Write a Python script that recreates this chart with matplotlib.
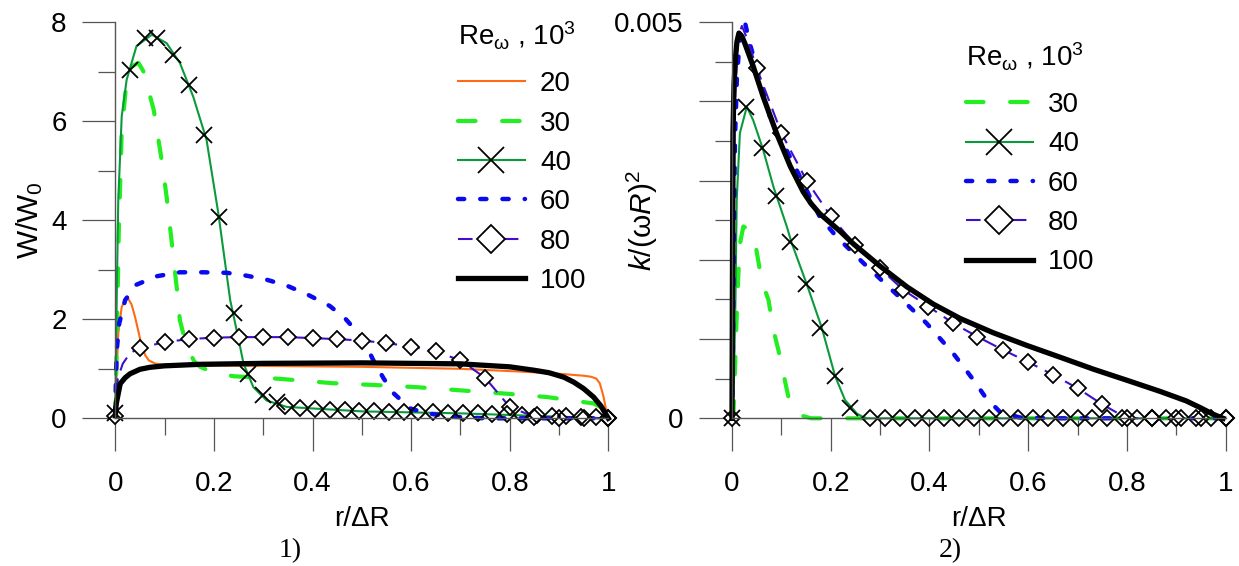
import numpy as np
import matplotlib
matplotlib.use('Agg')
import matplotlib.pyplot as plt
from matplotlib.legend_handler import HandlerTuple

plt.rcParams['font.family'] = ['Liberation Sans', 'DejaVu Sans']
plt.rcParams['font.size'] = 20
plt.rcParams['mathtext.fontset'] = 'custom'
plt.rcParams['mathtext.rm'] = 'Liberation Sans'
plt.rcParams['mathtext.it'] = 'Liberation Sans:italic'

# ---------- panel 1) : W/W0 vs r/dR ----------
x20 = [0, 0.006, 0.013, 0.02, 0.026, 0.033, 0.04, 0.047, 0.054, 0.061, 0.068, 0.08, 0.09,
       0.17, 0.5, 0.7, 0.83, 0.9, 0.95, 0.965, 0.976, 0.983, 0.99, 0.997, 1.0]
y20 = [0.23, 1.71, 2.25, 2.4, 2.42, 2.3, 2.05, 1.75, 1.44, 1.27, 1.17, 1.11, 1.09,
       1.07, 1.04, 1.0, 0.94, 0.9, 0.86, 0.84, 0.8, 0.7, 0.45, 0.1, 0.0]

x30 = [0, 0.003, 0.007, 0.013, 0.023, 0.033, 0.047, 0.057, 0.078, 0.094, 0.104, 0.114, 0.125,
       0.131, 0.145, 0.16, 0.172, 0.2, 0.24, 0.33, 0.44, 0.51, 0.61, 0.79, 0.875, 0.97, 0.99, 1.0]
y30 = [0.0, 1.5, 3.74, 5.77, 6.84, 7.11, 7.18, 7.01, 6.23, 5.22, 4.48, 3.6, 2.6,
       1.98, 1.44, 1.15, 1.04, 0.92, 0.85, 0.8, 0.71, 0.68, 0.63, 0.5, 0.43, 0.3, 0.2, 0.05]

x40 = [0, 0.003, 0.006, 0.013, 0.023, 0.043, 0.074, 0.104, 0.131, 0.158, 0.185, 0.209, 0.233,
       0.25, 0.26, 0.28, 0.307, 0.348, 0.5, 0.7, 1.0]
y40 = [0, 2.5, 4.4, 6.1, 6.84, 7.52, 7.75, 7.58, 7.18, 6.5, 5.63, 4.14, 2.39,
       1.6, 1.11, 0.63, 0.36, 0.23, 0.14, 0.1, 0.0]
# cross markers on the 40 curve
mx40 = [0, 0.03, 0.06, 0.084, 0.118, 0.15, 0.18, 0.21, 0.24, 0.27, 0.30, 0.327]
my40 = [0.1, 7.04, 7.69, 7.69, 7.35, 6.74, 5.73, 4.06, 2.12, 0.9, 0.47, 0.33]
# diamond markers further along the 40 curve
dx40 = [0.345, 0.375, 0.405, 0.435, 0.465, 0.495, 0.525, 0.555, 0.585, 0.615, 0.645, 0.675,
        0.705, 0.735, 0.765, 0.795, 0.825, 0.855, 0.885, 0.915, 0.945, 0.975, 1.0]
dy40 = [0.24, 0.21, 0.19, 0.17, 0.16, 0.15, 0.14, 0.13, 0.13, 0.12, 0.12, 0.11,
        0.1, 0.1, 0.09, 0.08, 0.07, 0.06, 0.05, 0.04, 0.03, 0.02, 0.0]

x60 = [0, 0.001, 0.003, 0.008, 0.02, 0.043, 0.084, 0.131, 0.179, 0.226, 0.267, 0.307, 0.348,
       0.39, 0.435, 0.466, 0.49, 0.51, 0.523, 0.544, 0.564, 0.598, 0.632, 0.686, 0.75, 1.0]
y60 = [0.1, 0.67, 1.38, 1.92, 2.39, 2.7, 2.87, 2.95, 2.95, 2.94, 2.88, 2.8, 2.68,
       2.5, 2.27, 2.02, 1.75, 1.45, 1.18, 0.81, 0.51, 0.2, 0.1, 0.03, 0.0, 0.0]

x80 = [0, 0.005, 0.015, 0.03, 0.05, 0.1, 0.15, 0.2, 0.25, 0.3, 0.35, 0.4, 0.45, 0.5, 0.55,
       0.6, 0.65, 0.7, 0.75, 0.8, 0.85, 0.9, 0.95, 1.0]
y80 = [0.05, 0.8, 1.1, 1.32, 1.42, 1.54, 1.6, 1.63, 1.64, 1.64, 1.64, 1.62, 1.6, 1.57, 1.52,
       1.45, 1.35, 1.17, 0.82, 0.23, 0.03, 0.0, 0.0, 0.0]
mark80 = [0] + list(range(4, len(x80)))

x100 = [0, 0.002, 0.005, 0.01, 0.02, 0.03, 0.05, 0.07, 0.1, 0.17, 0.3, 0.5, 0.7, 0.8, 0.85,
        0.88, 0.91, 0.93, 0.95, 0.97, 0.985, 1.0]
y100 = [0.05, 0.3, 0.45, 0.7, 0.82, 0.9, 0.99, 1.03, 1.06, 1.09, 1.11, 1.12, 1.1, 1.04, 0.97,
        0.92, 0.83, 0.73, 0.6, 0.43, 0.25, 0.0]

# ---------- panel 2) : k/(wR)^2 vs r/dR  (values in 1e-3) ----------
x30r = [0, 0.003, 0.006, 0.009, 0.013, 0.016, 0.023, 0.035, 0.047, 0.06, 0.074, 0.084, 0.094,
        0.107, 0.117, 0.128, 0.138, 0.16, 1.0]
y30r = [0, 0.06, 0.6, 1.2, 1.83, 2.2, 2.42, 2.38, 2.21, 1.74, 1.49, 1.11, 0.86,
        0.48, 0.19, 0.08, 0.04, 0, 0]

x40r = [0, 0.004, 0.007, 0.0095, 0.016, 0.03, 0.043, 0.063, 0.084, 0.111, 0.121, 0.151, 0.182,
        0.209, 0.229, 0.253, 0.27, 1.0]
y40r = [0, 0.5, 1.5, 2.75, 3.6, 3.93, 3.76, 3.39, 2.92, 2.42, 2.21, 1.7, 1.14,
        0.53, 0.23, 0.06, 0, 0]
mx40r = [0, 0.028, 0.06, 0.09, 0.118, 0.15, 0.178, 0.209, 0.239]
my40r = [0, 3.93, 3.41, 2.8, 2.23, 1.7, 1.14, 0.53, 0.13]
dx40r = [0.28, 0.31, 0.34, 0.37, 0.4, 0.43, 0.46, 0.49, 0.52, 0.55, 0.58, 0.61, 0.64, 0.67,
         0.7, 0.73, 0.76, 0.79, 0.82, 0.85, 0.88, 0.91, 0.94, 0.97, 1.0]
dy40r = [0.0] * len(dx40r)

x60r = [0, 0.002, 0.004, 0.006, 0.01, 0.016, 0.026, 0.036, 0.057, 0.077, 0.1, 0.124, 0.151,
        0.178, 0.212, 0.266, 0.334, 0.394, 0.448, 0.475, 0.492, 0.513, 0.543, 0.583, 0.65, 1.0]
y60r = [0, 1.0, 2.5, 3.5, 4.3, 4.81, 5.0, 4.73, 4.27, 3.8, 3.51, 3.22, 2.88,
        2.54, 2.29, 1.96, 1.56, 1.2, 0.82, 0.6, 0.46, 0.27, 0.08, 0.01, 0, 0]

x80r = [0, 0.003, 0.006, 0.012, 0.02, 0.03, 0.05, 0.1, 0.151, 0.2, 0.249, 0.3, 0.347, 0.398,
        0.448, 0.497, 0.55, 0.6, 0.65, 0.7, 0.749, 0.8, 0.85, 0.9, 0.95, 1.0]
y80r = [0, 2.0, 4.0, 4.8, 4.95, 4.8, 4.42, 3.6, 3.0, 2.55, 2.19, 1.89, 1.62, 1.41,
        1.2, 1.03, 0.86, 0.71, 0.55, 0.38, 0.18, 0, 0, 0, 0, 0]
mark80r = [0] + list(range(6, len(x80r)))

x100r = [0, 0.001, 0.002, 0.004, 0.007, 0.01, 0.014, 0.02, 0.026, 0.043, 0.063, 0.09, 0.118,
         0.144, 0.16, 0.178, 0.219, 0.246, 0.3, 0.354, 0.408, 0.462, 0.529, 0.597, 0.665, 0.732,
         0.8, 0.867, 0.92, 0.95, 0.975, 0.995]
y100r = [0, 2.0, 3.6, 4.2, 4.55, 4.75, 4.86, 4.82, 4.73, 4.44, 4.06, 3.6, 3.18,
         2.86, 2.71, 2.58, 2.36, 2.2, 1.92, 1.66, 1.44, 1.26, 1.08, 0.92, 0.77, 0.62,
         0.48, 0.34, 0.22, 0.13, 0.05, 0.0]

k = 1e-3

# styles
s20 = dict(color='#ff6a13', lw=1.5)
s30 = dict(color='#22ee22', lw=3.0, dashes=(4.2, 6.4), dash_capstyle='round')
s40 = dict(color='#0a9a3c', lw=1.5)
s60 = dict(color='#0a0af0', lw=3.2, dashes=(1.4, 3.6), dash_capstyle='round')
s80 = dict(color='#4010c8', lw=1.5, dashes=(7, 4))
s100 = dict(color='black', lw=3.8)
sx = dict(ls='none', marker='x', ms=12, mew=1.3, mec='black')
sd = dict(ls='none', marker='D', ms=8.6, mew=1.3, mec='black', mfc='none')

fig = plt.figure(figsize=(12.39, 5.66), dpi=100)
ax1 = fig.add_axes([0.09306, 0.26095, 0.3979, 0.6996])
ax2 = fig.add_axes([0.5908, 0.26095, 0.3984, 0.7002])

# panel 1
l20, = ax1.plot(x20, y20, clip_on=False, **s20)
l30, = ax1.plot(x30, y30, clip_on=False, **s30)
l40, = ax1.plot(x40, y40, clip_on=False, **s40)
l60, = ax1.plot(x60, y60, clip_on=False, **s60)
l80, = ax1.plot(x80, y80, clip_on=False, marker='D', ms=8.6, mew=1.3, mec='black',
                mfc='white', markevery=mark80, **s80)
l100, = ax1.plot(x100, y100, clip_on=False, **s100)
m40, = ax1.plot(mx40, my40, clip_on=False, **sx)
ax1.plot(dx40, dy40, clip_on=False, **sd)

# panel 2
r30, = ax2.plot(x30r, np.array(y30r) * k, clip_on=False, **s30)
r40, = ax2.plot(x40r, np.array(y40r) * k, clip_on=False, **s40)
r60, = ax2.plot(x60r, np.array(y60r) * k, clip_on=False, **s60)
r80, = ax2.plot(x80r, np.array(y80r) * k, clip_on=False, marker='D', ms=8.6, mew=1.3,
                mec='black', mfc='white', markevery=mark80r, **s80)
r100, = ax2.plot(x100r, np.array(y100r) * k, clip_on=False, **s100)
n40, = ax2.plot(mx40r, np.array(my40r) * k, clip_on=False, **sx)
ax2.plot(dx40r, np.array(dy40r) * k, clip_on=False, **sd)

for ax in (ax1, ax2):
    ax.set_xlim(0, 1)
    for sp in ('top', 'right'):
        ax.spines[sp].set_visible(False)
    for sp in ('left', 'bottom'):
        ax.spines[sp].set_color('#555555')
        ax.spines[sp].set_linewidth(1.0)
    ax.set_xticks(np.arange(0, 1.01, 0.2))
    ax.set_xticks(np.arange(0.1, 1.0, 0.2), minor=True)
    ax.set_xticklabels(['0', '0.2', '0.4', '0.6', '0.8', '1'])
    ax.tick_params(which='major', direction='out', length=24, width=0.9, color='#555555')
    ax.tick_params(which='minor', direction='out', length=12, width=0.9, color='#555555')
    ax.tick_params(axis='x', which='major', pad=14)
    ax.tick_params(axis='y', which='major', pad=11)
    ax.set_xlabel('r/\u0394R')
    ax.xaxis.set_label_coords(0.5, -0.222)

ax1.set_ylim(0, 8)
ax1.set_yticks([0, 2, 4, 6, 8])
ax1.set_yticks([1, 3, 5, 7], minor=True)
ax1.set_ylabel(r'W/W$_{\mathregular{0}}$', fontsize=21.5)
ax1.yaxis.set_label_coords(-0.143, 0.5)

ax2.set_ylim(0, 0.005)
ax2.set_yticks(np.arange(0, 0.00501, 0.001))
ax2.set_yticks(np.arange(0.0005, 0.005, 0.001), minor=True)
ax2.set_yticklabels(['0', '', '', '', '', '0.005'])
ax2.set_ylabel(r'$k$/($\mathregular{\omega}$$R$)$^{\mathregular{2}}$', fontsize=21.5)
ax2.yaxis.set_label_coords(-0.146, 0.5)

title = r'Re$_{\mathregular{\omega}}$ , 10$^{\mathregular{3}}$'
legkw = dict(frameon=False, borderpad=0.68, borderaxespad=0, handlelength=2.4,
             handletextpad=0.55, labelspacing=0.48, markerscale=1.6, numpoints=1,
             title=title, title_fontsize=20, alignment='left',
             handler_map={tuple: HandlerTuple(ndivide=1)})
leg1 = fig.legend([l20, l30, (l40, m40), l60, l80, l100], ['20', '30', '40', '60', '80', '100'],
                  loc='upper left', bbox_to_anchor=(0.3545, 0.998), **legkw)
leg2 = fig.legend([r30, (r40, n40), r60, r80, r100], ['30', '40', '60', '80', '100'],
                  loc='upper left', bbox_to_anchor=(0.7645, 0.961), **legkw)
# a bit more room between the legend title and the first entry
for leg in (leg1, leg2):
    leg._legend_box.sep += 4

fig.text(290 / 1239, 1 - 551 / 566, '1)', family='Liberation Serif', fontsize=20,
         ha='center', va='center')
fig.text(950 / 1239, 1 - 551 / 566, '2)', family='Liberation Serif', fontsize=20,
         ha='center', va='center')

fig.savefig('out.png', dpi=100)
